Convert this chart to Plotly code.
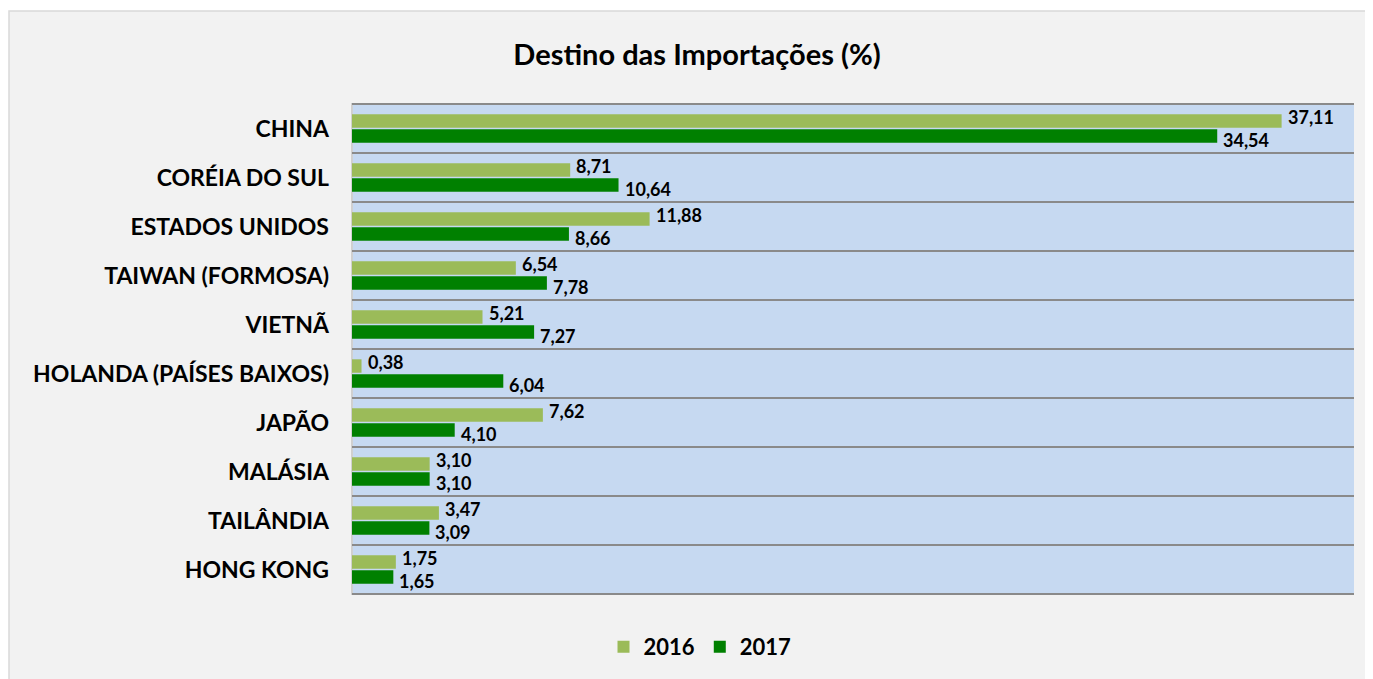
import plotly.graph_objects as go

countries = ["CHINA", "CORÉIA DO SUL", "ESTADOS UNIDOS", "TAIWAN (FORMOSA)", "VIETNÃ",
             "HOLANDA (PAÍSES BAIXOS)", "JAPÃO", "MALÁSIA", "TAILÂNDIA", "HONG KONG"]
v2016 = [37.11, 8.71, 11.88, 6.54, 5.21, 0.38, 7.62, 3.10, 3.47, 1.75]
v2017 = [34.54, 10.64, 8.66, 7.78, 7.27, 6.04, 4.10, 3.10, 3.09, 1.65]
series_names = ["2016", "2017"]
colors = ["#9bbb59", "#008000"]

FONT = "Lato"
OFF = 8  # page body margin
W, H = 1373 - OFF, 679 - OFF
PL, PR, PT, PB = 352, 1354, 103, 595
ml, mr, mt, mb = PL - OFF, 1373 - PR, PT - OFF, 679 - PB
BARGAP = 0.39
cat_px = (PB - PT) / len(countries)
slot_px = cat_px * (1 - BARGAP) / 2

fig = go.Figure()
annotations = []
for k, (name, vals, col) in enumerate(zip(series_names, [v2016, v2017], colors)):
    fig.add_trace(go.Bar(
        y=countries, x=vals, name=name, orientation="h",
        marker=dict(color=col, line=dict(width=0)),
    ))
    # data labels: 2016 slightly above its bar centre, 2017 slightly below
    shift = (slot_px / 2 + 3.5) * (1 if k == 0 else -1)
    for c, v in zip(countries, vals):
        annotations.append(dict(
            x=v, y=c, xref="x", yref="y", text="<b>" + f"{v:.2f}".replace(".", ",") + "</b>",
            showarrow=False, xanchor="left", yanchor="middle", xshift=5, yshift=shift,
            borderpad=0,
            font=dict(family=FONT, size=18, color="#000000"),
        ))

def px_x(xw):
    return (xw - PL) / (PR - PL)

def px_y(yw):
    return (PB - yw) / (PB - PT)

shapes = []
shapes.append(dict(type="rect", xref="paper", yref="paper",
                   x0=px_x(9), x1=px_x(1390), y0=px_y(700), y1=px_y(11),
                   fillcolor="#f2f2f2", line=dict(color="#d9d9d9", width=1.5), layer="below"))
shapes.append(dict(type="rect", xref="paper", yref="paper", x0=0, x1=1, y0=0, y1=1,
                   fillcolor="#c6d9f1", line=dict(width=0), layer="below"))
shapes.append(dict(type="line", xref="paper", yref="paper", x0=0, x1=0, y0=0, y1=1,
                   line=dict(color="#d0d0d0", width=2), layer="below"))
for i in range(len(countries) + 1):
    shapes.append(dict(type="line", xref="paper", yref="y", x0=0, x1=1,
                       y0=i - 0.5, y1=i - 0.5, line=dict(color="#8a8a8a", width=2),
                       layer="between"))

fig.update_layout(
    width=W, height=H,
    margin=dict(l=ml, r=mr, t=mt, b=mb, autoexpand=False),
    paper_bgcolor="#ffffff", plot_bgcolor="#c6d9f1",
    barmode="group", bargap=BARGAP, bargroupgap=0.1,
    title=dict(text="<b>Destino das Importações (%)</b>", x=(697 - OFF) / W, xanchor="center",
               y=1 - (55 - OFF) / H, yanchor="middle",
               font=dict(family=FONT, size=29, color="#000000")),
    xaxis=dict(range=[0, 40], showgrid=False, zeroline=False, showticklabels=False,
               ticks="", showline=False),
    yaxis=dict(autorange="reversed", showgrid=False, zeroline=False, ticks="",
               ticklabelstandoff=22, tickprefix="<b>", ticksuffix="</b>",
               tickfont=dict(family=FONT, size=23, color="#000000")),
    legend=dict(orientation="h", xref="container", x=(700 - OFF) / W, xanchor="center",
                yref="container", y=1 - (647 - OFF) / H, yanchor="middle",
                font=dict(family=FONT, size=22, color="#000000", weight="bold"),
                itemwidth=30, traceorder="normal", bgcolor="rgba(0,0,0,0)"),
    shapes=shapes,
    annotations=annotations,
    font=dict(family=FONT),
)

fig.write_html("out.html")
